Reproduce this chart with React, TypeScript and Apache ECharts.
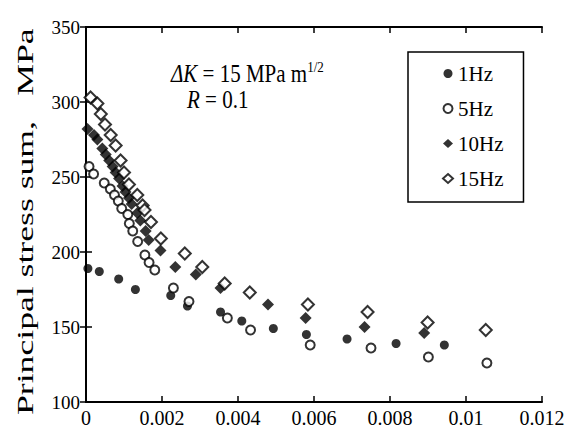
import React, { useEffect, useRef } from "react";
import * as echarts from "echarts";

const xTicks = [0, 0.002, 0.004, 0.006, 0.008, 0.01, 0.012];
const yTicks = [100, 150, 200, 250, 300, 350];

const hz1: [number, number][] = [
  [0.00005, 189], [0.00035, 187], [0.00086, 182], [0.0013, 175], [0.00223, 171],
  [0.00267, 164], [0.00354, 160], [0.0041, 154], [0.00493, 149], [0.0058, 145],
  [0.00687, 142], [0.00816, 139], [0.00943, 138],
];
const hz5: [number, number][] = [
  [0.00008, 257], [0.0002, 252], [0.00048, 246], [0.00064, 242], [0.00075, 238],
  [0.00085, 234], [0.00094, 229], [0.0011, 225], [0.00114, 219], [0.00123, 214],
  [0.00136, 207], [0.00155, 198], [0.00166, 193], [0.00181, 188], [0.0023, 176],
  [0.00271, 167], [0.00372, 156], [0.00433, 148], [0.0059, 138], [0.0075, 136],
  [0.00901, 130], [0.01055, 126],
];
const hz10: [number, number][] = [
  [0.00004, 282], [0.00021, 278], [0.0003, 275], [0.00043, 269], [0.00052, 265],
  [0.00061, 261], [0.0007, 257], [0.00078, 253], [0.00087, 249], [0.00096, 244],
  [0.00104, 240], [0.00113, 236], [0.0012, 232], [0.00135, 226], [0.00143, 221],
  [0.00157, 214], [0.00165, 208], [0.00196, 201], [0.00235, 190], [0.00289, 185],
  [0.00354, 176], [0.00479, 165], [0.00578, 156], [0.00733, 150], [0.0089, 146],
  [0.01202, 137],
];
const hz15: [number, number][] = [
  [0.00012, 303], [0.0003, 299], [0.00039, 292], [0.0005, 285], [0.00065, 278],
  [0.00078, 271], [0.00091, 261], [0.001, 253], [0.00113, 245], [0.00135, 238],
  [0.00149, 231], [0.00154, 228], [0.00171, 220], [0.00197, 209], [0.0026, 199],
  [0.00306, 190], [0.00365, 179], [0.00431, 173], [0.00584, 165], [0.00741, 160],
  [0.00899, 153], [0.01052, 148],
];
const seriesNames = ["1Hz", "5Hz", "10Hz", "15Hz"];

const FONT = "'Liberation Serif', 'DejaVu Serif', serif";

export default function App() {
  const ref = useRef<HTMLDivElement>(null);
  useEffect(() => {
    if (!ref.current) return;
    const chart = echarts.init(ref.current, null, { renderer: "svg" });
    const axisCommon = {
      axisLine: { show: true, lineStyle: { color: "#000", width: 2 } },
      axisTick: { show: true, inside: true, length: 6, lineStyle: { color: "#000", width: 1.5 } },
      splitLine: { show: false },
    };
    const fmtX = (v: number) => {
      const s = parseFloat(v.toFixed(4));
      return s === 0 ? "0" : String(s);
    };
    chart.setOption({
      animation: false,
      backgroundColor: "#fff",
      textStyle: { fontFamily: FONT },
      grid: { left: 86, right: 28, top: 27, bottom: 32 },
      legend: {
        orient: "vertical",
        left: 408,
        top: 52,
        data: seriesNames,
        borderColor: "#000",
        borderWidth: 1.5,
        borderRadius: 0,
        padding: [11, 20, 13, 34],
        itemWidth: 10,
        itemHeight: 9,
        itemGap: 14,
        textStyle: { fontFamily: FONT, fontSize: 21, color: "#000", lineHeight: 20 },
      },
      xAxis: [
        {
          type: "value",
          min: xTicks[0],
          max: xTicks[xTicks.length - 1],
          interval: 0.002,
          ...axisCommon,
          axisLabel: { formatter: fmtX, fontSize: 20, color: "#000", margin: 6, fontFamily: FONT },
        },
        {
          type: "value",
          position: "top",
          min: xTicks[0],
          max: xTicks[xTicks.length - 1],
          interval: 0.002,
          ...axisCommon,
          axisLabel: { show: false },
        },
      ],
      yAxis: [
        {
          type: "value",
          min: yTicks[0],
          max: yTicks[yTicks.length - 1],
          interval: 50,
          ...axisCommon,
          axisLabel: { fontSize: 19, color: "#000", margin: 6, fontFamily: FONT },
        },
        {
          type: "value",
          position: "right",
          min: yTicks[0],
          max: yTicks[yTicks.length - 1],
          interval: 50,
          ...axisCommon,
          axisLabel: { show: false },
        },
      ],
      graphic: [
        {
          type: "text",
          x: 25,
          y: 268,
          rotation: Math.PI / 2,
          scaleX: 1.55,
          style: {
            text: "Principal stress sum,",
            font: `23px ${FONT}`,
            fill: "#000",
            align: "center",
            verticalAlign: "middle",
          },
        },
        {
          type: "text",
          x: 25,
          y: 62,
          rotation: Math.PI / 2,
          scaleX: 1.55,
          style: {
            text: "MPa",
            font: `23px ${FONT}`,
            fill: "#000",
            align: "center",
            verticalAlign: "middle",
          },
        },
        {
          type: "text",
          x: 171,
          y: 73,
          scaleY: 1.2,
          style: {
            text: "{i|ΔK} = 15 MPa m{s|1/2}",
            font: `21px ${FONT}`,
            fill: "#000",
            verticalAlign: "middle",
            rich: {
              i: { fontStyle: "italic", fontSize: 21, fontFamily: FONT },
              s: { fontSize: 13, fontFamily: FONT, verticalAlign: "top", padding: [0, 0, 10, 0] },
            },
          },
        },
        {
          type: "text",
          x: 187,
          y: 99,
          scaleY: 1.2,
          style: {
            text: "{i|R} = 0.1",
            font: `21px ${FONT}`,
            fill: "#000",
            verticalAlign: "middle",
            rich: { i: { fontStyle: "italic", fontSize: 21, fontFamily: FONT } },
          },
        },
      ],
      series: [
        {
          name: "1Hz",
          type: "scatter",
          data: hz1,
          symbol: "circle",
          symbolSize: 9,
          itemStyle: { color: "#000" },
        },
        {
          name: "5Hz",
          type: "scatter",
          data: hz5,
          symbol: "circle",
          symbolSize: 9,
          itemStyle: { color: "#fff", borderColor: "#000", borderWidth: 2 },
        },
        {
          name: "10Hz",
          type: "scatter",
          data: hz10,
          symbol: "diamond",
          symbolSize: 12,
          itemStyle: { color: "#000" },
        },
        {
          name: "15Hz",
          type: "scatter",
          data: hz15,
          symbol: "diamond",
          symbolSize: 12,
          itemStyle: { color: "#fff", borderColor: "#000", borderWidth: 2 },
        },
      ],
    });
    return () => chart.dispose();
  }, []);
  return (
    <div
      ref={ref}
      style={{ position: "fixed", left: 0, top: 0, width: 570, height: 434 }}
    />
  );
}
